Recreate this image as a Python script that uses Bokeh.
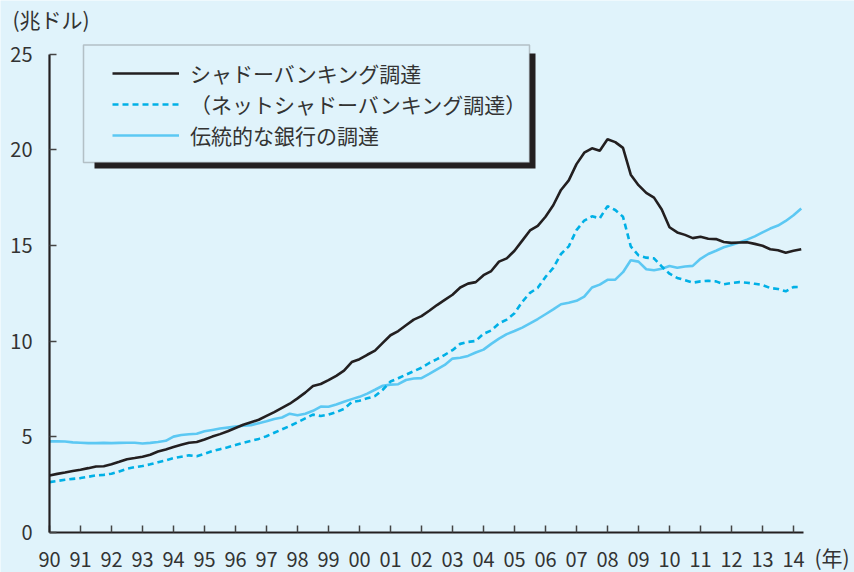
from bokeh.plotting import figure
from bokeh.models import (ColumnDataSource, FixedTicker, Legend, LegendItem,
                          Label, BoxAnnotation, Range1d)
from bokeh.embed import file_html
from bokeh.resources import INLINE

FONT = "Noto Sans CJK JP"
BG = "#e0f3fb"
INK = "#231f20"
TEXT = "#333333"

# Quarterly observations, 1990Q1 - 2014Q2 (trillion US$)
quarters = [1990 + q / 4 for q in range(98)]

shadow_banking = [
    2.97, 3.05, 3.12, 3.20, 3.27, 3.35, 3.44, 3.45, 3.55, 3.68, 3.82, 3.88,
    3.95, 4.05, 4.22, 4.33, 4.45, 4.57, 4.68, 4.72, 4.85, 5.00, 5.13, 5.28,
    5.45, 5.62, 5.75, 5.88, 6.08, 6.28, 6.50, 6.72, 7.00, 7.30, 7.65, 7.75,
    7.95, 8.18, 8.45, 8.90, 9.05, 9.28, 9.50, 9.90, 10.30, 10.52, 10.82, 11.12,
    11.30, 11.58, 11.88, 12.15, 12.42, 12.80, 13.00, 13.08, 13.44, 13.66, 14.15, 14.32,
    14.72, 15.25, 15.78, 16.02, 16.50, 17.10, 17.90, 18.40, 19.25, 19.85, 20.08, 19.95,
    20.55, 20.40, 20.10, 18.70, 18.15, 17.75, 17.50, 16.88, 15.95, 15.68, 15.55, 15.38,
    15.45, 15.35, 15.33, 15.18, 15.13, 15.15, 15.16, 15.08, 14.98, 14.80, 14.75, 14.62,
    14.72, 14.80,
]

net_shadow_banking = [
    2.62, 2.68, 2.74, 2.79, 2.83, 2.90, 2.97, 3.00, 3.06, 3.18, 3.32, 3.40,
    3.46, 3.55, 3.66, 3.76, 3.87, 3.95, 4.02, 3.97, 4.10, 4.24, 4.34, 4.44,
    4.56, 4.68, 4.78, 4.88, 5.02, 5.20, 5.38, 5.55, 5.75, 5.95, 6.15, 6.08,
    6.15, 6.28, 6.45, 6.80, 6.88, 7.00, 7.12, 7.45, 7.88, 8.05, 8.24, 8.42,
    8.60, 8.85, 9.05, 9.28, 9.52, 9.85, 9.95, 10.00, 10.38, 10.55, 10.92, 11.12,
    11.45, 12.05, 12.52, 12.78, 13.35, 13.82, 14.55, 14.95, 15.80, 16.30, 16.52, 16.42,
    17.05, 16.85, 16.50, 14.95, 14.48, 14.36, 14.32, 13.90, 13.52, 13.30, 13.18, 13.05,
    13.12, 13.15, 13.12, 12.97, 13.03, 13.08, 13.05, 12.99, 12.93, 12.77, 12.72, 12.60,
    12.82, 12.83,
]

traditional_banking = [
    4.75, 4.76, 4.74, 4.70, 4.68, 4.66, 4.66, 4.67, 4.66, 4.67, 4.68, 4.68,
    4.64, 4.67, 4.72, 4.78, 5.00, 5.08, 5.12, 5.15, 5.28, 5.35, 5.42, 5.47,
    5.52, 5.57, 5.60, 5.70, 5.80, 5.92, 6.00, 6.20, 6.12, 6.20, 6.35, 6.57,
    6.56, 6.68, 6.82, 6.96, 7.08, 7.25, 7.45, 7.66, 7.72, 7.74, 7.96, 8.04,
    8.06, 8.28, 8.52, 8.75, 9.08, 9.12, 9.22, 9.40, 9.55, 9.85, 10.12, 10.36,
    10.52, 10.70, 10.92, 11.15, 11.40, 11.65, 11.92, 12.00, 12.10, 12.32, 12.80, 12.95,
    13.20, 13.21, 13.60, 14.22, 14.15, 13.75, 13.70, 13.78, 13.92, 13.83, 13.90, 13.93,
    14.30, 14.55, 14.72, 14.90, 15.02, 15.15, 15.30, 15.47, 15.68, 15.88, 16.04, 16.28,
    16.58, 16.93,
]

year_ticks = list(range(1990, 2015))
year_labels = {y: f"{y % 100:02d}" for y in year_ticks}
value_ticks = [0, 5, 10, 15, 20, 25]

legend_labels = [
    "シャドーバンキング調達",
    "（ネットシャドーバンキング調達）",
    "伝統的な銀行の調達",
]

source = ColumnDataSource(data=dict(
    x=quarters,
    shadow=shadow_banking,
    net=net_shadow_banking,
    trad=traditional_banking,
))

# The plotting frame fills the whole canvas; the axes are pinned at
# year 1990 / value 0 and trimmed with bounds, which leaves room for
# captions around them without anything being clipped.
W, H = 854, 572
PX_PER_YEAR = 31.0
PX_PER_UNIT = 19.12
ORIGIN_X, ORIGIN_Y = 49.0, 531.7          # canvas position of (1990, 0)
x_lo = 1990 - ORIGIN_X / PX_PER_YEAR
x_hi = 1990 + (W - ORIGIN_X) / PX_PER_YEAR
y_lo = -(H - ORIGIN_Y) / PX_PER_UNIT
y_hi = ORIGIN_Y / PX_PER_UNIT

p = figure(
    width=W, height=H,
    output_backend="svg", toolbar_location=None,
    x_range=Range1d(x_lo, x_hi), y_range=Range1d(y_lo, y_hi),
    min_border=0,
    background_fill_color=BG, border_fill_color=BG,
    outline_line_color=None,
)
p.grid.visible = False

for ax in (p.xaxis[0], p.yaxis[0]):
    ax.axis_line_color = INK
    ax.axis_line_width = 2.2
    ax.major_tick_line_color = "#444444"
    ax.major_tick_line_width = 1.5
    ax.major_tick_in = 7
    ax.major_tick_out = 0
    ax.minor_tick_line_color = None
    ax.major_label_text_font = FONT
    ax.major_label_text_font_size = "20px"
    ax.major_label_text_color = TEXT

p.xaxis.fixed_location = 0
p.xaxis.bounds = (1990, 2014.32)
p.xaxis.ticker = FixedTicker(ticks=year_ticks)
p.xaxis.major_label_overrides = year_labels
p.xaxis.major_label_standoff = 20

p.yaxis.fixed_location = 1990
p.yaxis.bounds = (0, 25)
p.yaxis.ticker = FixedTicker(ticks=value_ticks)
p.yaxis.major_label_standoff = 17

# legend frame with its drop shadow
p.add_layout(BoxAnnotation(left=94, right=535, top=53, bottom=168,
                           left_units="canvas", right_units="canvas",
                           top_units="canvas", bottom_units="canvas",
                           fill_color=INK, fill_alpha=1, line_color=None,
                           level="overlay"))
p.add_layout(BoxAnnotation(left=83, right=529, top=44.5, bottom=162,
                           left_units="canvas", right_units="canvas",
                           top_units="canvas", bottom_units="canvas",
                           fill_color=BG, fill_alpha=1, line_color="#4d4d4d",
                           line_width=1.5, level="overlay"))

r_trad = p.line("x", "trad", source=source, line_color="#5cc8f3", line_width=2.6)
r_net = p.line("x", "net", source=source, line_color="#00b0e6", line_width=2.6,
               line_dash="6 4")
r_shadow = p.line("x", "shadow", source=source, line_color=INK, line_width=2.6)

legend = Legend(
    items=[LegendItem(label=legend_labels[0], renderers=[r_shadow]),
           LegendItem(label=legend_labels[1], renderers=[r_net]),
           LegendItem(label=legend_labels[2], renderers=[r_trad])],
    location=(112, 422),
    glyph_width=67, glyph_height=20, label_height=20,
    label_standoff=11, spacing=1, padding=0, margin=0,
    border_line_color=None, background_fill_alpha=0,
    label_text_font=FONT, label_text_font_size="21px", label_text_color=TEXT,
)
p.add_layout(legend, "center")

# unit captions for the two axes
p.add_layout(Label(x=12, y=3, x_units="canvas", y_units="canvas",
                   text="(兆ドル)", text_font=FONT, text_font_size="21px",
                   text_color=TEXT, text_baseline="top", level="overlay"))
p.add_layout(Label(x=814, y=541, x_units="canvas", y_units="canvas",
                   text="(年)", text_font=FONT, text_font_size="21px",
                   text_color=TEXT, text_baseline="top", level="overlay"))

open("out.html", "w").write(file_html(p, INLINE))
